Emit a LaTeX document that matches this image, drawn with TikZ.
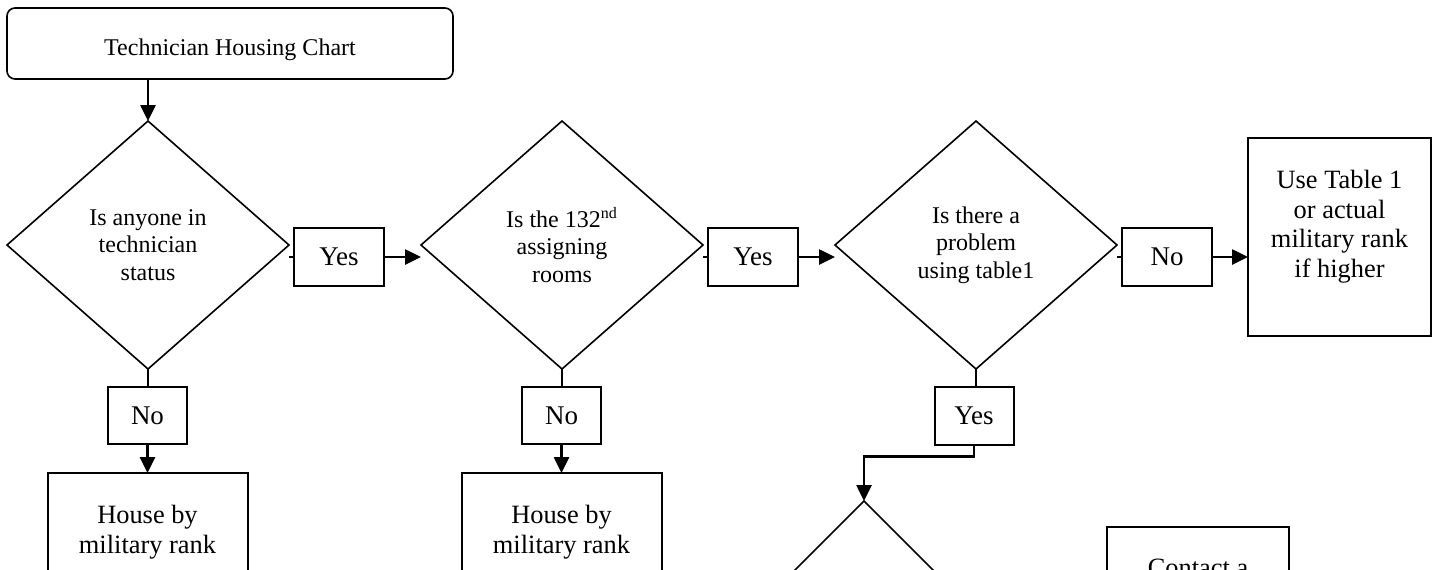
\documentclass[tikz,border=0pt]{standalone}
\usepackage{fontspec}
\setmainfont{Liberation Serif}
\usetikzlibrary{shapes.geometric,arrows.meta,calc}
\begin{document}
\begin{tikzpicture}[x=0.5pt,y=-0.5pt,
  base/.style={draw=black,inner sep=0pt,outer sep=0pt,font=\fontsize{13.5}{15}\selectfont},
  titlebox/.style={base,rounded corners=4pt,line width=0.8pt,minimum width=223pt,minimum height=35.5pt,font=\fontsize{12}{14}\selectfont,text height=14.6pt,text depth=2.6pt},
  decision/.style={base,diamond,line width=0.8pt,minimum width=141pt,minimum height=124pt,align=center,font=\fontsize{12}{13.8}\selectfont},
  answer/.style={base,line width=1pt,minimum width=45pt,minimum height=28.75pt},
  answerv/.style={answer,minimum width=39.5pt},
  outcome/.style={base,line width=1pt},
  outtext/.style={inner sep=0pt,align=center,font=\fontsize{13.2}{14.8}\selectfont,anchor=north},
  flow/.style={line width=1.3pt,-{Triangle[length=8pt,width=7.5pt]}},
  stub/.style={line width=1pt},
]
\path[use as bounding box] (0,0) rectangle (1434,569);
\clip (0,0) rectangle (1434,569);

% top row
\node[titlebox] (title) at (230,43.5) {Technician Housing Chart};
\node[decision] (d1) at (148,245) {Is anyone in\\technician\\status};
\node[answer] (y1) at (339,257) {Yes};
\node[decision] (d2) at (562,245) {Is the 132\textsuperscript{nd}\\assigning\\rooms};
\node[answer] (y2) at (753,257) {Yes};
\node[decision] (d3) at (976,245) {Is there a\\problem\\using table1};
\node[answer] (n3) at (1167,257) {No};
\node[outcome,minimum width=91.5pt,minimum height=99pt] (use) at (1339.5,237) {};
\node[outtext] (usetext) at ($(use.north)+(0,32)$) {Use Table 1\\or actual\\military rank\\if higher};

% bottom row
\node[answerv] (n1) at (147.5,415.5) {No};
\node[outcome,minimum width=100pt,minimum height=150pt,anchor=north] (h1) at (147.5,473) {};
\node[outtext] (h1text) at ($(h1.north)+(0,32)$) {House by\\military rank};
\node[answerv] (n2) at (561.5,415.5) {No};
\node[outcome,minimum width=100pt,minimum height=150pt,anchor=north] (h2) at (561.5,473) {};
\node[outtext] (h2text) at ($(h2.north)+(0,32)$) {House by\\military rank};
\node[answerv] (y3) at (974,416) {Yes};
\coordinate (bend) at ($(y3.south)+(0,12)$);
\node[decision,minimum width=124pt,minimum height=124pt,anchor=north] (d4) at (864,501) {};
\node[outcome,minimum width=91pt,minimum height=99pt,anchor=north] (contact) at (1198,527) {};
\node[outtext] (contacttext) at ($(contact.north)+(0,32)$) {Contact a};

% connectors
\draw[flow] (title.south -| d1.north) -- (d1.north);
\draw[stub] (y1.west -| d1.east) -- (y1.west);
\draw[flow] (y1.east) -- (y1.east -| d2.west);
\draw[stub] (y2.west -| d2.east) -- (y2.west);
\draw[flow] (y2.east) -- (y2.east -| d3.west);
\draw[stub] (n3.west -| d3.east) -- (n3.west);
\draw[flow] (n3.east) -- (n3.east -| use.west);
\draw[stub] (d1.south) -- (d1.south |- n1.north);
\draw[flow] (n1.south) -- (n1.south |- h1.north);
\draw[stub] (d2.south) -- (d2.south |- n2.north);
\draw[flow] (n2.south) -- (n2.south |- h2.north);
\draw[stub] (d3.south) -- (d3.south |- y3.north);
\draw[flow] (y3.south) -- (bend) -| (d4.north);
\end{tikzpicture}
\end{document}
